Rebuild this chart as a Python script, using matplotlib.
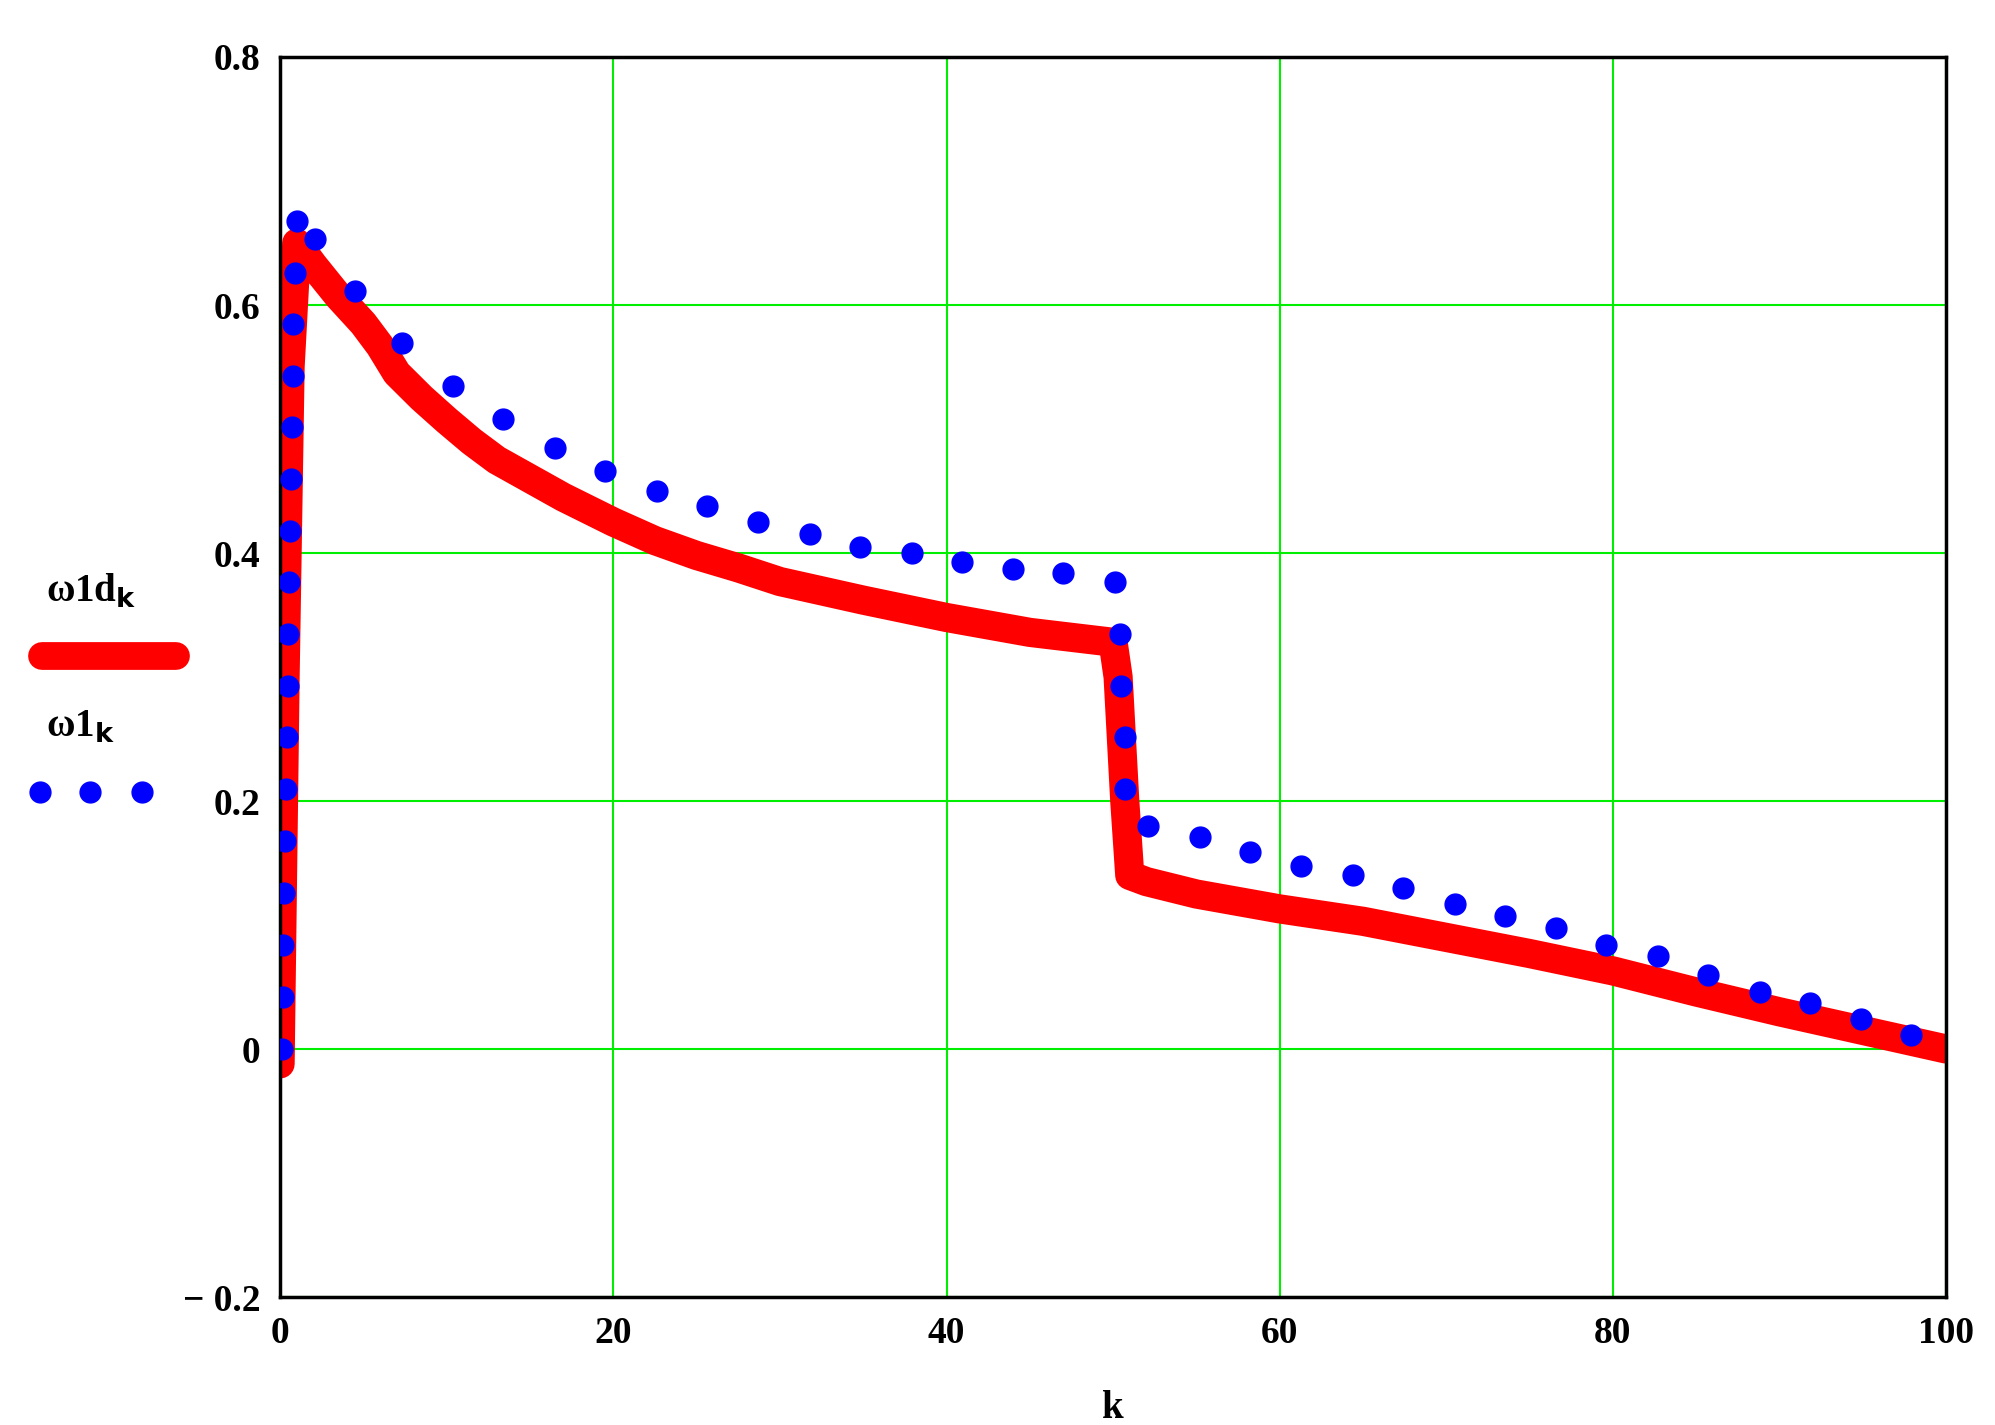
import matplotlib
matplotlib.use("Agg")
import matplotlib.pyplot as plt
from matplotlib.lines import Line2D

dot_k = [0.1,0.15,0.2,0.25,0.3,0.35,0.4,0.45,0.5,0.55,0.6,0.65,0.7,0.75,0.8,0.9,1.0,
         2.1,4.5,7.3,10.4,13.4,16.5,19.5,22.6,25.6,28.7,31.8,34.8,37.9,40.9,44.0,47.0,50.1,
         50.4,50.5,50.7,50.7,52.1,55.2,58.2,61.3,64.4,67.4,70.5,73.5,76.6,79.6,82.7,85.7,
         88.8,91.8,94.9,97.9]
dot_w = [0.0,0.042,0.084,0.126,0.168,0.21,0.252,0.293,0.335,0.377,0.418,0.46,0.502,0.543,0.585,0.626,0.668,
         0.653,0.611,0.569,0.535,0.508,0.485,0.466,0.450,0.438,0.425,0.415,0.405,0.400,0.393,0.387,0.384,0.377,
         0.335,0.293,0.252,0.21,0.18,0.171,0.159,0.148,0.140,0.130,0.117,0.107,0.098,0.084,0.075,0.060,
         0.046,0.037,0.024,0.011]

line_k = [0.0,0.3,0.6,1.0,2,3.5,5,6,7,8.5,10,11.5,13,15,17,20,22.5,25,27.5,30,35,40,45,50,50.3,50.7,51,52,55,60,65,70,75,80,85,90,95,100]
line_w = [-0.012,0.3,0.55,0.65,0.632,0.607,0.585,0.567,0.545,0.525,0.507,0.49,0.475,0.46,0.445,0.425,0.41,0.398,0.388,0.377,0.362,0.348,0.336,0.328,
          0.30,0.2,0.14,0.135,0.125,0.113,0.103,0.09,0.077,0.063,0.046,0.03,0.015,0.0]

xticks = [0,20,40,60,80,100]
yticks = [-0.2,0,0.2,0.4,0.6,0.8]
ytick_labels = ["\u2212 0.2","0","0.2","0.4","0.6","0.8"]

plt.rcParams['font.family'] = ['Liberation Serif', 'DejaVu Serif']
plt.rcParams['font.weight'] = 'bold'

fig = plt.figure(figsize=(19.95,14.25), dpi=100)
ax = fig.add_axes([0.1404,0.0898,0.8351,0.8702])
ax.plot(line_k, line_w, color='#ff0000', lw=21, solid_capstyle='round', solid_joinstyle='round', zorder=2)
ax.plot(dot_k, dot_w, 'o', color='#0000ff', ms=15, zorder=3)
ax.set_xlim(0,100)
ax.set_ylim(-0.2,0.8)
ax.set_xticks(xticks)
ax.set_yticks(yticks)
ax.set_yticklabels(ytick_labels)
ax.grid(True, color='#00ee00', lw=1.5)
ax.set_axisbelow(True)
ax.tick_params(length=0, labelsize=27, pad=14)
for s in ax.spines.values():
    s.set_linewidth(2.5)
    s.set_color('black')
ax.set_xlabel('k', fontsize=28, fontweight='bold', labelpad=28)

fig.text(0.023, 0.578, r'ω1d$_{\mathbf{k}}$', fontsize=28, fontweight='bold')
fig.add_artist(Line2D([0.021,0.088],[0.5395,0.5395], transform=fig.transFigure,
                      color='#ff0000', lw=20, solid_capstyle='round'))
fig.text(0.023, 0.483, r'ω1$_{\mathbf{k}}$', fontsize=28, fontweight='bold')
fig.add_artist(Line2D([0.020,0.045,0.071],[0.444,0.444,0.444], transform=fig.transFigure,
                      ls='none', marker='o', color='#0000ff', ms=15))
fig.savefig('out.png', dpi=100)
